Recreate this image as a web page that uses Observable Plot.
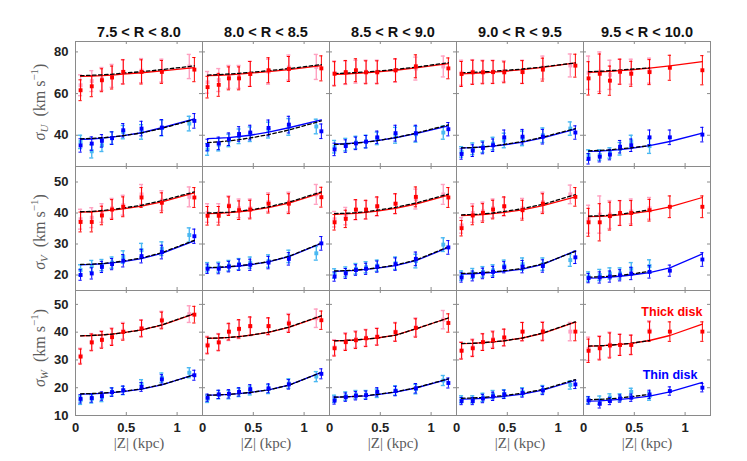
<!DOCTYPE html>
<html><head><meta charset="utf-8">
<script src="https://cdn.jsdelivr.net/npm/d3@7"></script>
<script src="https://cdn.jsdelivr.net/npm/@observablehq/plot@0.6"></script>
<style>
body{margin:0;background:#fff;}
#chart{position:relative;width:747px;height:461px;overflow:hidden;background:#fff;}
.row{position:absolute;left:0;}
.row svg{overflow:visible;}
</style></head><body><div id="chart"></div><script>
const panels = ["7.5 < R < 8.0","8.0 < R < 8.5","8.5 < R < 9.0","9.0 < R < 9.5","9.5 < R < 10.0"];
const zBin   = [0.05,0.16,0.26,0.36,0.47,0.65,0.85,1.17];
const zLight = [0.05,0.16,0.26,0.36,0.47,0.65,0.85,1.12];
const xTicks = [0,0.5,1];
const yTicksU = [40,60,80];
const yTicksV = [20,30,40,50];
const yTicksW = [10,20,30,40,50];

// ---- sigma_U ----
const thickU = [
 [61.6,63.5,66.4,67.7,70.4,70.4,70.4,71.5],
 [63.1,64.2,67.3,67.3,69.4,71.2,71.8,72.1],
 [69.5,70.3,71.2,70.2,70.2,71.2,73.1,72.1],
 [69.4,70.2,70.2,70.3,70.2,70.3,71.5,73.4],
 [67.3,69.5,66.2,70.5,69.5,70.3,72.4,71.2]];
const thickUerr = [
 [5,5,5.5,5.5,5.8,5.8,5.5,5.8],
 [5.2,5.5,5.5,5.5,6,6,6,6],
 [5.8,5.6,5.5,5.5,5.5,5.5,5.5,5],
 [6,5.8,5.5,5.5,5,5.5,5.5,5.5],
 [8,9.5,7,6,6,6,6,7]];
const thickUlight = [
 [64,66,67,68.5,70.5,71,71,73],
 [65.4,66.5,68,68,69.5,70.5,72.5,72.8],
 [69.8,70,70.5,70.5,70.5,71,72,73],
 [70,70.5,70.5,70.5,70.8,70.5,72.5,73.5],
 [70,70.5,69,70.5,70.5,71]];
const thickUfit = [
 [68.3,68.4,68.6,68.9,69.3,70.0,70.9,72.5],
 [68.6,68.8,69.0,69.3,69.8,70.5,71.5,73.4],
 [69.2,69.4,69.7,70.0,70.4,71.2,72.3,74.4],
 [69.5,69.7,70.0,70.3,70.7,71.5,72.6,74.7],
 [70.2,70.4,70.7,71.0,71.4,72.2,73.3,75.3]];
const thickUdash = [
 [68.6,68.8,69.0,69.3,69.8,70.5,71.5,73.3],
 [68.9,69.1,69.4,69.7,70.2,71.0,72.0,73.9],
 [69.6,69.8,70.1,70.4,70.8,71.6,72.7,74.8],
 [70.0,70.2,70.4,70.7,71.1,71.8,72.8,74.7],
 [70.5,70.7,71.0,71.3,71.7,72.3]];
const thinU = [
 [35.1,36.0,37.3,38.6,42.4,43.2,43.7,46.9],
 [35.3,36.1,38.1,40.6,41.3,43.5,45.1,41.9],
 [33.2,34.8,36.1,36.9,39.0,41.0,41.0,42.9],
 [31.0,32.6,33.9,35.2,39.0,39.3,39.3,41.3],
 [28.7,29.7,30.7,34.5,35.2,39.0,39.0,40.3]];
const thinUerr = [
 [3.2,3.2,3,3,3.2,3.5,3.8,3.5],
 [2.8,3,3,3.5,3.5,3.8,4,3.5],
 [3,3,3,3,3,3.8,3.8,3.2],
 [2.5,2.8,2.8,3,3.5,3.5,3.5,3.2],
 [2.5,2.5,2.5,3,3,3.5,3.5,3.5]];
const thinUlight = [
 [36.8,32.3,35.2,38.7,41.5,41.6,43.5,45.6],
 [33.2,35.5,37.5,39.5,40.5,42.5,44,44.2],
 [34.5,35.5,36.5,37,38.5,40,40.5,41.3],
 [32,33.5,34.5,36,37.5,38.5,40,43.2],
 [30.5,30.5,31.5,33.5,37,34.8]];
const thinUfit = [
 [38.0,38.2,38.6,39.1,39.8,41.2,43.6,47.8],
 [38.4,38.6,38.9,39.4,40.0,41.5,43.6,47.4],
 [35.8,36.0,36.3,36.8,37.4,38.8,40.8,44.5],
 [33.9,34.1,34.4,34.8,35.4,36.7,38.7,42.9],
 [32.3,32.4,32.7,33.1,33.7,35.0,37.0,41.0]];
const thinUdash = [
 [38.3,38.5,38.8,39.2,39.8,41.1,43.3,47.6],
 [36.5,36.8,37.3,37.9,38.7,40.3,42.5,46.9],
 [35.6,35.8,36.2,36.7,37.4,38.9,41.0,45.0],
 [33.9,34.1,34.4,34.9,35.6,37.0,39.1,43.2],
 [32.5,32.7,33.0,33.5,34.0,35.0]];

// ---- sigma_V ----
const thickV = [
 [37.1,37.1,39.2,41.1,42.0,45.0,43.3,45.0],
 [39.1,39.1,42.2,40.9,41.1,43.0,43.0,45.1],
 [37.0,38.1,41.1,41.1,42.2,43.0,45.2,45.0],
 [35.1,39.2,40.0,41.1,42.2,40.9,43.0,45.2],
 [37.0,37.0,39.0,40.0,40.0,40.9,42.0,42.0]];
const thickVerr = [
 [3.2,3.2,3,3.2,3.2,3.2,3.2,3.2],
 [3,3,3,3,3,3,3.2,3.2],
 [2.5,2.8,3.2,3,3,3.2,3.2,3.2],
 [2.5,3,3,3,3,3.2,3.2,3],
 [4.5,6,4.5,4,4,3.5,3.5,3.5]];
const thickVlight = [
 [38,38.5,40,41.5,42.5,46,44,45.2],
 [40,40,42.5,41.5,41.5,43.5,43.5,46],
 [38,39,41,41,42,43,44.5,46],
 [36,40,40.5,41.5,42,41.5,43.5,46],
 [38,39.5,39.5,40,40.5,41.5]];
const thickVfit = [
 [40.3,40.4,40.6,40.9,41.3,42.2,43.6,46.5],
 [39.8,39.9,40.1,40.4,40.8,41.7,43.2,46.5],
 [39.6,39.7,39.9,40.2,40.6,41.5,42.9,45.8],
 [39.2,39.3,39.5,39.8,40.2,41.0,42.4,45.2],
 [38.8,38.9,39.1,39.4,39.8,40.6,42.0,45.0]];
const thickVdash = [
 [40.4,40.5,40.8,41.1,41.6,42.5,44.0,46.8],
 [40.0,40.1,40.3,40.6,41.0,42.0,43.5,46.8],
 [39.8,39.9,40.1,40.4,40.9,41.8,43.2,46.1],
 [39.4,39.5,39.7,40.0,40.5,41.4,42.8,45.9],
 [39.0,39.1,39.3,39.6,40.1,41.0]];
const thinV = [
 [20.0,20.5,22.6,23.5,24.6,26.1,27.4,32.5],
 [22.0,22.0,22.7,23.3,23.3,24.0,25.2,30.2],
 [19.5,20.5,21.6,22.0,22.7,23.5,25.2,28.9],
 [19.2,19.7,20.5,21.0,22.5,22.7,22.9,25.7],
 [19.0,19.2,19.5,19.9,20.5,21.0,21.4,25.0]];
const thinVerr = [
 [1.7,1.8,1.8,1.8,2,2.2,2.2,2.3],
 [1.5,1.6,1.7,1.8,1.8,2,2,2.2],
 [1.5,1.6,1.7,1.8,1.8,2,2.2,2.2],
 [1.5,1.6,1.7,1.8,1.8,2,2,2],
 [1.5,1.8,1.8,1.8,2,2,1.8,2.2]];
const thinVlight = [
 [21.6,22.9,23.2,24,25.8,28.0,28.5,32.9],
 [22.5,22.5,23,23.5,24,24.5,26,27.0],
 [20.5,21,22,22.5,23,23.8,24.5,29.8],
 [19.8,20.5,21,21.5,23,23.5,23.5,24.8],
 [19.5,20,20.5,20.5,22.0,22.9]];
const thinVfit = [
 [23.3,23.4,23.6,23.9,24.3,25.3,27.0,31.0],
 [22.3,22.4,22.6,22.9,23.3,24.2,25.9,30.2],
 [21.2,21.3,21.5,21.8,22.2,23.0,24.6,28.9],
 [20.3,20.4,20.6,20.8,21.2,21.9,23.4,27.8],
 [19.0,19.1,19.3,19.6,20.0,20.8,22.3,26.8]];
const thinVdash = [
 [23.4,23.5,23.7,24.0,24.5,25.5,27.2,31.2],
 [22.4,22.5,22.7,23.0,23.4,24.3,26.0,30.3],
 [21.3,21.4,21.6,21.9,22.3,23.2,24.8,29.1],
 [20.5,20.6,20.8,21.0,21.4,22.1,23.6,27.6],
 [19.3,19.4,19.6,19.9,20.3,21.2]];

// ---- sigma_W ----
const thickW = [
 [31.2,36.3,37.2,38.2,40.1,41.3,44.2,46.3],
 [35.2,36.3,40.2,41.2,42.2,42.2,43.1,44.3],
 [34.2,36.4,37.1,37.8,38.3,40.0,41.5,43.3],
 [33.3,34.2,36.4,37.1,38.1,40.2,40.2,40.2],
 [33.3,34.2,35.2,35.4,35.4,40.2,40.2,40.2]];
const thickWerr = [
 [2.7,3,3,3,3,3,3,3],
 [3,3,3,3.3,3.3,3,3.2,3.3],
 [2.8,3,3,3,3,3.3,3.3,3.3],
 [3,3,3,3,3,3.3,3.3,3.3],
 [4.2,4.2,4.5,3.8,3.5,3.5,3.5,3.5]];
const thickWlight = [
 [31.5,36.5,37.5,38.5,40.5,41.5,44.5,46.5],
 [35.5,36.5,40,41,42,42,43.5,45],
 [34.5,36.8,37.5,38,38.5,40.2,41.8,44.5],
 [33.5,34.5,36.5,37.5,38,40.2,40.5,40.2],
 [34,34.5,35.5,35.5,35.5,40.6]];
const thickWfit = [
 [38.7,38.8,39.0,39.3,39.8,40.8,42.5,46.6],
 [37.8,37.9,38.1,38.4,38.9,39.9,41.7,45.8],
 [36.9,37.0,37.2,37.5,37.9,38.9,41.2,45.1],
 [35.9,36.0,36.2,36.5,36.9,37.9,39.6,43.6],
 [35.0,35.1,35.3,35.6,36.0,37.0,38.8,42.9]];
const thickWdash = [
 [38.7,38.8,39.0,39.3,39.8,40.8,42.6,46.7],
 [37.8,37.9,38.1,38.4,38.9,40.0,41.8,45.9],
 [36.9,37.0,37.2,37.5,37.9,38.9,41.2,45.1],
 [35.9,36.0,36.2,36.5,36.9,37.9,39.7,43.7],
 [35.0,35.1,35.3,35.6,36.0,37.0]];
const thinW = [
 [16.0,16.3,17.0,18.4,19.1,20.3,23.0,24.5],
 [16.4,17.6,17.8,18.5,19.5,19.8,21.2,25.0],
 [15.4,16.6,17.1,17.3,18.5,18.8,19.8,21.7],
 [15.2,15.2,16.1,16.9,17.6,18.1,19.0,21.2],
 [15.4,14.2,15.2,16.1,16.4,17.6,18.8,20.0]];
const thinWerr = [
 [1.5,1.5,1.5,1.5,1.5,1.6,1.7,1.8],
 [1.3,1.5,1.5,1.5,1.6,1.6,1.7,1.8],
 [1.3,1.5,1.5,1.5,1.5,1.7,1.7,1.8],
 [1.3,1.3,1.5,1.5,1.5,1.5,1.5,1.5],
 [1.3,1.5,1.3,1.3,1.3,1.5,1.5,1.5]];
const thinWlight = [
 [15.5,16,16.5,18.5,19,21.3,23.6,25.4],
 [16.0,17.5,17.5,18.3,19,19.5,21.5,24.0],
 [16,17,17.5,17.5,18,19,19.5,22.6],
 [15.8,15.8,16.5,17.5,17.8,18.5,19.3,21.0],
 [15.5,15.5,16.5,16.5,18.5,17.0]];
const thinWfit = [
 [17.7,17.8,18.0,18.2,18.6,19.5,21.0,24.7],
 [17.3,17.4,17.6,17.9,18.3,19.2,20.9,25.5],
 [16.6,16.7,16.9,17.1,17.5,18.4,19.9,23.1],
 [15.9,16.0,16.2,16.5,16.9,17.7,19.1,22.6],
 [15.2,15.3,15.5,15.8,16.2,17.0,18.5,21.9]];
const thinWdash = [
 [17.8,17.9,18.1,18.3,18.7,19.6,21.1,24.6],
 [17.3,17.4,17.6,17.9,18.3,19.2,20.9,25.5],
 [16.6,16.7,16.9,17.2,17.6,18.5,20.0,23.2],
 [16.2,16.3,16.5,16.8,17.2,18.0,19.4,22.9],
 [15.7,15.8,16.0,16.3,16.8,17.6]];

const RED = "#ff0000", BLUE = "#0000ff", PINK = "#ffa0c0", LBLUE = "#4ab8f2", FRAME = "#8a8a8a";
const FONT = '"Liberation Sans", Arial, Helvetica, sans-serif';
const SERIF = '"Liberation Serif", "DejaVu Serif", serif';

function pointsOf(vals, errs, zs, color) {
  const out = [];
  vals.forEach((arr, pi) => arr.forEach((v, i) => out.push({p: panels[pi], z: zs[i], v, e: errs[pi][i], c: color})));
  return out;
}
function lineOf(vals, color, key) {
  const out = [];
  vals.forEach((arr, pi) => arr.forEach((v, i) => out.push({p: panels[pi], z: zBin[i], v, c: color, k: key + pi})));
  return out;
}

const rowsCfg = [
  {sym: "U", domain: [25, 85], ticks: yTicksU, top: 0, height: 166, mt: 41, mb: 0, labY: 102,
   thick: [thickU, thickUerr, thickUlight, thickUfit, thickUdash], thin: [thinU, thinUerr, thinUlight, thinUfit, thinUdash]},
  {sym: "V", domain: [15, 55], ticks: yTicksV, top: 166, height: 124, mt: 0, mb: 0, labY: 232,
   thick: [thickV, thickVerr, thickVlight, thickVfit, thickVdash], thin: [thinV, thinVerr, thinVlight, thinVfit, thinVdash]},
  {sym: "W", domain: [10, 55], ticks: yTicksW, top: 290, height: 171, mt: 0, mb: 46, labY: 348,
   thick: [thickW, thickWerr, thickWlight, thickWfit, thickWdash], thin: [thinW, thinWerr, thinWlight, thinWfit, thinWdash]}
];

function errMarks(data, width, cap) {
  return [
    Plot.ruleX(data, {fx: "p", x: "z", y1: d => d.v - d.e, y2: d => d.v + d.e, stroke: "c", strokeWidth: width}),
    Plot.ruleY(data, {fx: "p", y: d => d.v + d.e, x1: d => d.z - cap, x2: d => d.z + cap, stroke: "c", strokeWidth: width}),
    Plot.ruleY(data, {fx: "p", y: d => d.v - d.e, x1: d => d.z - cap, x2: d => d.z + cap, stroke: "c", strokeWidth: width})
  ];
}

const chart = document.getElementById("chart");
const PANEL_W = (747 - 75 - 37) / panels.length;
const TICK = 3;

rowsCfg.forEach((cfg, idx) => {
  const dark = [...pointsOf(cfg.thick[0], cfg.thick[1], zBin, RED), ...pointsOf(cfg.thin[0], cfg.thin[1], zBin, BLUE)];
  const light = [...pointsOf(cfg.thick[2], cfg.thick[1], zLight, PINK), ...pointsOf(cfg.thin[2], cfg.thin[1], zLight, LBLUE)];
  const fits = [...lineOf(cfg.thick[3], RED, "a"), ...lineOf(cfg.thin[3], BLUE, "b")];
  const dashes = [...lineOf(cfg.thick[4], "#000", "c"), ...lineOf(cfg.thin[4], "#000", "d")];
  const panelH = cfg.height - cfg.mt - cfg.mb;
  const marks = [
    ...errMarks(light, 1.4, 0.02),
    Plot.dot(light, {fx: "p", x: "z", y: "v", symbol: "square", r: 2.2, fill: "c", stroke: "none"}),
    ...errMarks(dark, 1, 0.016),
    Plot.line(fits, {fx: "p", x: "z", y: "v", z: "k", stroke: "c", strokeWidth: 1.3}),
    Plot.line(dashes, {fx: "p", x: "z", y: "v", z: "k", stroke: "c", strokeWidth: 1.3, strokeDasharray: "3.5,2.5"}),
    Plot.dot(dark, {fx: "p", x: "z", y: "v", symbol: "square", r: 2.2, fill: "c", stroke: "none"}),
    Plot.frame({stroke: FRAME, strokeWidth: 1}),
    Plot.ruleX(xTicks, {x: d => d, insetTop: panelH - TICK, stroke: FRAME}),
    Plot.ruleX(xTicks, {x: d => d, insetBottom: panelH - TICK, stroke: FRAME}),
    Plot.ruleY(cfg.ticks, {y: d => d, insetRight: PANEL_W - TICK, stroke: FRAME}),
    Plot.ruleY(cfg.ticks, {y: d => d, insetLeft: PANEL_W - TICK, stroke: FRAME}),
    Plot.axisY(cfg.ticks, {anchor: "left", tickSize: 0, tickPadding: 7, fontSize: 13, fontWeight: "bold", fill: "#222", label: null, tickFormat: d => String(d)})
  ];
  if (idx === 0) {
    marks.push(Plot.axisFx({anchor: "top", tickSize: 0, tickPadding: 5, fontSize: 14.5, fontWeight: "bold", fill: "#111", label: null}));
  }
  if (idx === 2) {
    marks.push(Plot.axisX(xTicks, {anchor: "bottom", tickSize: 0, tickPadding: 7, fontSize: 13, fontWeight: "bold", fill: "#222", label: null, facetAnchor: null, tickFormat: d => String(d)}));
    marks.push(Plot.text(["|Z| (kpc)"], {frameAnchor: "bottom", lineAnchor: "middle", dy: 28, text: d => d, fontSize: 15, fill: "#5c5c5c", fontFamily: SERIF}));
    marks.push(Plot.text([{p: panels[4], t: "Thick disk"}], {fx: "p", frameAnchor: "top-right", lineAnchor: "middle", dx: -8, dy: 21, text: "t", fill: RED, fontSize: 12.5, fontWeight: "bold", textAnchor: "end"}));
    marks.push(Plot.text([{p: panels[4], t: "Thin disk"}], {fx: "p", frameAnchor: "top-right", lineAnchor: "middle", dx: -13, dy: 84, text: "t", fill: BLUE, fontSize: 12.5, fontWeight: "bold", textAnchor: "end"}));
  }
  const svg = Plot.plot({
    width: 747, height: cfg.height,
    marginLeft: 75, marginRight: 37, marginTop: cfg.mt, marginBottom: cfg.mb,
    style: {fontFamily: FONT, background: "transparent", overflow: "visible"},
    fx: {domain: panels, padding: 0, axis: null},
    x: {domain: [0, 1.25], axis: null},
    y: {domain: cfg.domain},
    color: {type: "identity"},
    marks
  });

  const t = d3.select(svg).append("text")
    .attr("transform", `translate(41,${cfg.labY - cfg.top}) rotate(-90)`)
    .attr("text-anchor", "middle")
    .attr("dominant-baseline", "middle")
    .attr("font-family", SERIF)
    .attr("font-size", 16)
    .attr("fill", "#5c5c5c");
  t.append("tspan").attr("font-style", "italic").text("σ");
  t.append("tspan").attr("font-style", "italic").attr("font-size", 11).attr("dy", 4).text(cfg.sym);
  t.append("tspan").attr("dy", -4).text("\u2002(km s");
  t.append("tspan").attr("font-size", 11).attr("dy", -6).text("−1");
  t.append("tspan").attr("dy", 6).text(")");

  const wrap = document.createElement("div");
  wrap.className = "row";
  wrap.style.top = cfg.top + "px";
  wrap.appendChild(svg);
  chart.appendChild(wrap);
});
</script></body></html>
